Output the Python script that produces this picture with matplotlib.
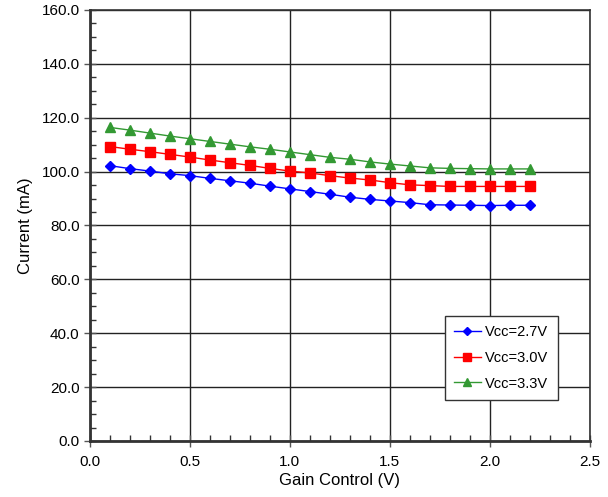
import numpy as np
import matplotlib.pyplot as plt
from matplotlib.ticker import MultipleLocator, FormatStrFormatter

plt.rcParams['font.family'] = ['Liberation Sans', 'DejaVu Sans']

gain = [0.1, 0.2, 0.3, 0.4, 0.5, 0.6, 0.7, 0.8, 0.9, 1.0, 1.1,
        1.2, 1.3, 1.4, 1.5, 1.6, 1.7, 1.8, 1.9, 2.0, 2.1, 2.2]
i_27 = [102.2, 101.1, 100.2, 99.2, 98.5, 97.5, 96.6, 95.7, 94.6, 93.6, 92.6,
        91.6, 90.5, 89.7, 89.1, 88.5, 87.7, 87.6, 87.5, 87.4, 87.5, 87.5]
i_30 = [109.3, 108.3, 107.4, 106.4, 105.4, 104.3, 103.3, 102.3, 101.2, 100.2, 99.5,
        98.5, 97.6, 96.9, 95.9, 95.1, 94.8, 94.5, 94.5, 94.5, 94.5, 94.5]
i_33 = [116.4, 115.4, 114.3, 113.2, 112.2, 111.2, 110.2, 109.2, 108.3, 107.3, 106.3,
        105.3, 104.6, 103.6, 102.8, 102.1, 101.4, 101.2, 101.1, 101.0, 101.0, 101.0]

fig = plt.figure(figsize=(6.08, 4.97), dpi=100)
ax = fig.add_axes([0.148, 0.1127, 0.822, 0.8672])

ax.plot(gain, i_27, color='#0000ff', marker='D', markersize=5, lw=1, label='Vcc=2.7V', zorder=3)
ax.plot(gain, i_30, color='#ff0000', marker='s', markersize=6.5, lw=1, label='Vcc=3.0V', zorder=3)
ax.plot(gain, i_33, color='#339933', marker='^', markersize=7, lw=1, label='Vcc=3.3V', zorder=3)

ax.set_xlim(0, 2.5)
ax.set_ylim(0, 160)
ax.xaxis.set_major_locator(MultipleLocator(0.5))
ax.xaxis.set_minor_locator(MultipleLocator(0.1))
ax.yaxis.set_major_locator(MultipleLocator(20))
ax.yaxis.set_minor_locator(MultipleLocator(5))
ax.xaxis.set_major_formatter(FormatStrFormatter('%.1f'))
ax.yaxis.set_major_formatter(FormatStrFormatter('%.1f'))
ax.tick_params(which='major', direction='inout', length=8, width=1, labelsize=11, color='#555555')
ax.tick_params(which='minor', direction='in', length=4, width=1, color='#333333')
ax.tick_params(axis='x', which='major', pad=6)
ax.grid(True, which='major', color='#222222', lw=1)
for s in ax.spines.values():
    s.set_linewidth(1.2)
    s.set_color('#333333')
ax.spines['left'].set_linewidth(2)
ax.spines['bottom'].set_linewidth(2)

ax.set_xlabel('Gain Control (V)', fontsize=12, labelpad=3)
ax.set_ylabel('Current (mA)', fontsize=12, labelpad=6)

leg = ax.legend(loc='lower left', bbox_to_anchor=(0.71, 0.095), borderaxespad=0,
                fancybox=False, framealpha=1, edgecolor='#333333', fontsize=10.5,
                handlelength=1.8, handletextpad=0.3, labelspacing=0.8,
                borderpad=0.65, markerscale=0.8)
leg.get_frame().set_linewidth(1)

fig.savefig('out.png', dpi=100)
